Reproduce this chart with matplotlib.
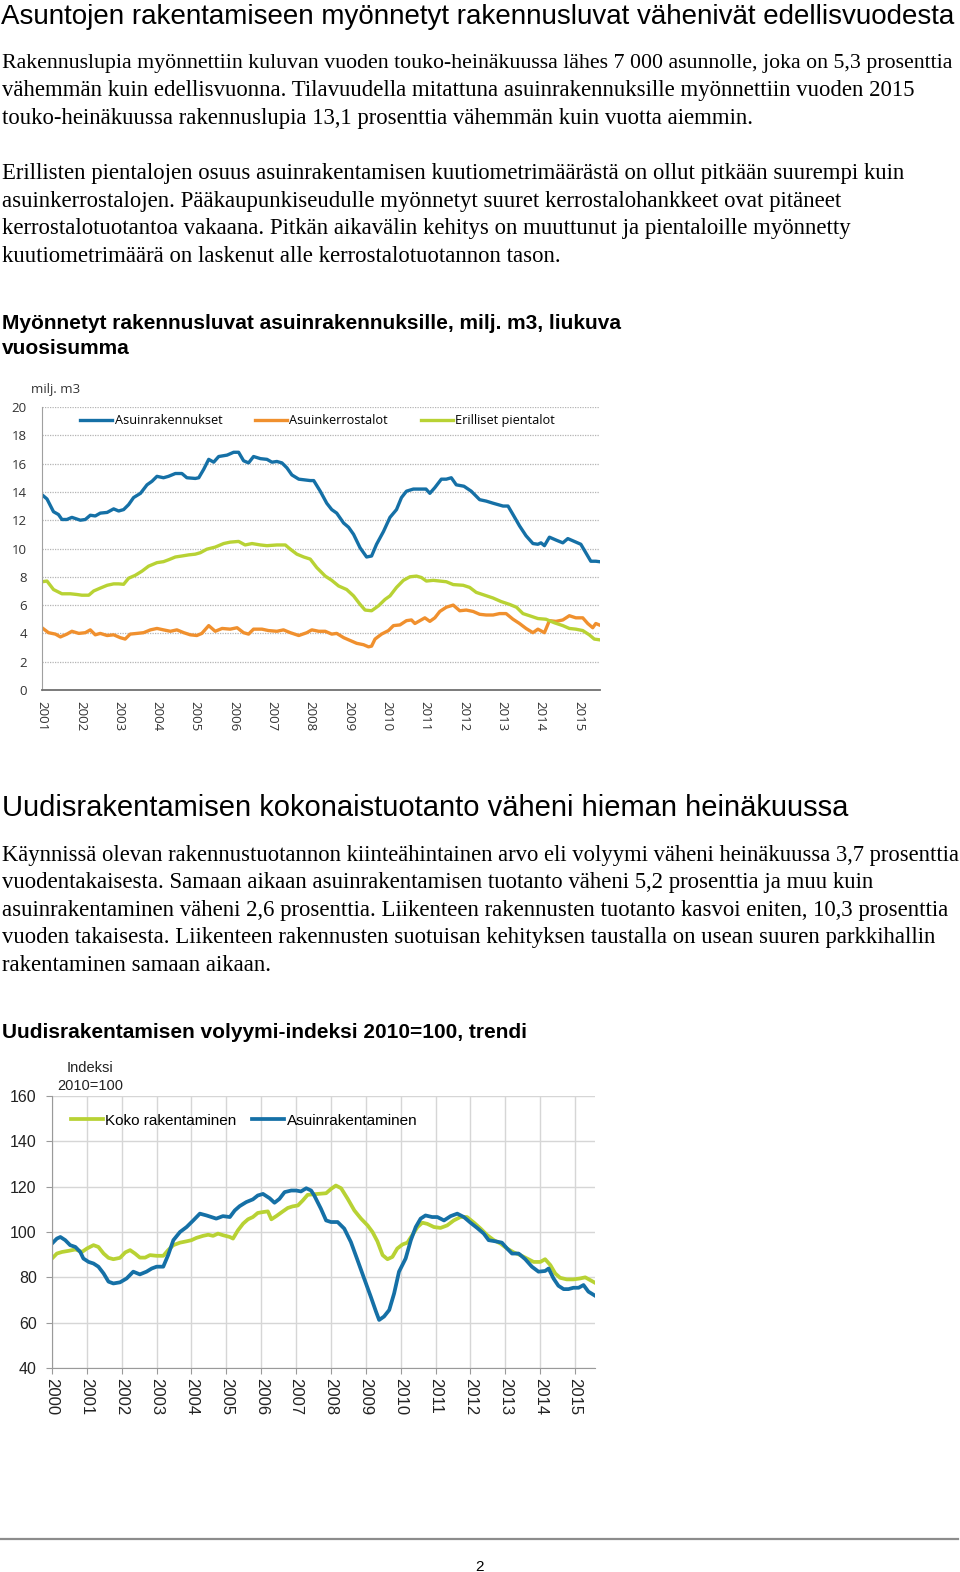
import numpy as np
import matplotlib
matplotlib.use("Agg")
import matplotlib.pyplot as plt

# --- chart 1: myönnetyt rakennusluvat, milj. m3 ---
asuin_x = [2001.00, 2001.13, 2001.30, 2001.43, 2001.52, 2001.65, 2001.78, 2002.00, 2002.13, 2002.26,
           2002.39, 2002.52, 2002.70, 2002.87, 2003.00, 2003.13, 2003.26, 2003.39, 2003.57, 2003.74,
           2003.87, 2004.00, 2004.17, 2004.30, 2004.48, 2004.65, 2004.78, 2005.00, 2005.09, 2005.22,
           2005.35, 2005.48, 2005.61, 2005.83, 2006.00, 2006.13, 2006.26, 2006.39, 2006.52, 2006.70,
           2006.87, 2007.00, 2007.13, 2007.26, 2007.39, 2007.52, 2007.70, 2008.00, 2008.09, 2008.26,
           2008.43, 2008.56, 2008.69, 2008.87, 2009.00, 2009.13, 2009.30, 2009.47, 2009.60, 2009.73,
           2009.91, 2010.08, 2010.25, 2010.38, 2010.51, 2010.69, 2010.86, 2011.02, 2011.12, 2011.25,
           2011.42, 2011.55, 2011.68, 2011.81, 2012.01, 2012.20, 2012.42, 2012.59, 2012.77, 2013.03,
           2013.16, 2013.29, 2013.46, 2013.63, 2013.81, 2013.94, 2014.02, 2014.11, 2014.24, 2014.41,
           2014.59, 2014.72, 2014.89, 2015.06, 2015.19, 2015.32, 2015.45, 2015.54]
asuin_y = [13.8, 13.5, 12.6, 12.4, 12.05, 12.05, 12.2, 12.0, 12.05, 12.35,
           12.3, 12.5, 12.55, 12.8, 12.65, 12.75, 13.1, 13.6, 13.9, 14.5,
           14.75, 15.1, 15.0, 15.1, 15.3, 15.3, 15.0, 14.95, 15.0, 15.6,
           16.3, 16.1, 16.5, 16.6, 16.8, 16.8, 16.2, 16.05, 16.5, 16.35,
           16.3, 16.1, 16.15, 16.05, 15.7, 15.2, 14.9, 14.8, 14.8, 14.05,
           13.2, 12.75, 12.5, 11.8, 11.5, 11.0, 10.05, 9.4, 9.47, 10.3,
           11.2, 12.2, 12.75, 13.6, 14.05, 14.2, 14.2, 14.2, 13.9, 14.3,
           14.9, 14.9, 15.0, 14.5, 14.4, 14.05, 13.45, 13.35, 13.2, 13.0,
           13.0, 12.4, 11.6, 10.9, 10.35, 10.3, 10.4, 10.2, 10.8, 10.6,
           10.4, 10.7, 10.5, 10.3, 9.7, 9.1, 9.1, 9.07]

kerros_x = [2001.00, 2001.17, 2001.35, 2001.48, 2001.65, 2001.78, 2001.96, 2002.13, 2002.26, 2002.39,
            2002.52, 2002.70, 2002.87, 2003.04, 2003.17, 2003.30, 2003.48, 2003.65, 2003.83, 2004.00,
            2004.17, 2004.35, 2004.52, 2004.70, 2004.87, 2005.04, 2005.17, 2005.35, 2005.52, 2005.70,
            2005.91, 2006.09, 2006.26, 2006.39, 2006.52, 2006.74, 2006.91, 2007.13, 2007.30, 2007.48,
            2007.70, 2007.91, 2008.04, 2008.22, 2008.39, 2008.56, 2008.69, 2008.87, 2009.04, 2009.21,
            2009.39, 2009.52, 2009.60, 2009.69, 2009.86, 2010.04, 2010.17, 2010.34, 2010.51, 2010.64,
            2010.73, 2010.86, 2010.99, 2011.12, 2011.25, 2011.38, 2011.55, 2011.73, 2011.90, 2012.07,
            2012.25, 2012.42, 2012.59, 2012.77, 2012.94, 2013.11, 2013.29, 2013.46, 2013.63, 2013.81,
            2013.94, 2014.11, 2014.24, 2014.41, 2014.59, 2014.76, 2014.93, 2015.11, 2015.24, 2015.37,
            2015.45, 2015.54]
kerros_y = [4.4, 4.05, 3.95, 3.75, 3.95, 4.15, 4.0, 4.05, 4.25, 3.9,
            4.0, 3.85, 3.9, 3.7, 3.6, 3.95, 4.0, 4.05, 4.25, 4.35,
            4.25, 4.15, 4.25, 4.05, 3.9, 3.85, 4.0, 4.55, 4.15, 4.35,
            4.3, 4.4, 4.05, 3.95, 4.3, 4.3, 4.2, 4.15, 4.25, 4.05,
            3.85, 4.05, 4.25, 4.15, 4.15, 3.95, 4.0, 3.7, 3.5, 3.3,
            3.2, 3.05, 3.1, 3.6, 3.95, 4.2, 4.55, 4.6, 4.9, 4.95,
            4.7, 4.9, 5.1, 4.85, 5.1, 5.55, 5.85, 6.0, 5.6, 5.65,
            5.55, 5.35, 5.3, 5.3, 5.4, 5.4, 5.0, 4.7, 4.35, 4.05,
            4.3, 4.05, 4.9, 4.85, 4.95, 5.25, 5.1, 5.1, 4.7, 4.4,
            4.7, 4.6]

pien_x = [2001.00, 2001.13, 2001.30, 2001.52, 2001.74, 2001.91, 2002.04, 2002.22, 2002.35, 2002.52,
          2002.70, 2002.87, 2003.00, 2003.13, 2003.26, 2003.43, 2003.61, 2003.78, 2004.00, 2004.17,
          2004.30, 2004.48, 2004.65, 2004.83, 2005.00, 2005.13, 2005.30, 2005.52, 2005.74, 2005.91,
          2006.13, 2006.30, 2006.48, 2006.70, 2006.87, 2007.13, 2007.35, 2007.48, 2007.65, 2007.83,
          2008.00, 2008.17, 2008.39, 2008.56, 2008.74, 2008.95, 2009.13, 2009.30, 2009.43, 2009.60,
          2009.78, 2009.95, 2010.08, 2010.25, 2010.43, 2010.60, 2010.77, 2010.90, 2011.03, 2011.21,
          2011.38, 2011.55, 2011.73, 2011.99, 2012.16, 2012.33, 2012.55, 2012.77, 2012.98, 2013.20,
          2013.38, 2013.55, 2013.72, 2013.94, 2014.15, 2014.37, 2014.59, 2014.76, 2014.93, 2015.11,
          2015.28, 2015.41, 2015.54]
pien_y = [7.65, 7.7, 7.1, 6.8, 6.8, 6.75, 6.7, 6.7, 7.0, 7.2,
          7.4, 7.5, 7.5, 7.47, 7.9, 8.1, 8.4, 8.75, 9.0, 9.07,
          9.2, 9.4, 9.47, 9.55, 9.6, 9.7, 9.95, 10.1, 10.35, 10.45,
          10.5, 10.25, 10.35, 10.25, 10.2, 10.25, 10.25, 9.95, 9.6, 9.4,
          9.25, 8.65, 8.05, 7.75, 7.35, 7.1, 6.65, 6.05, 5.65, 5.6,
          5.95, 6.4, 6.65, 7.25, 7.75, 8.0, 8.05, 7.95, 7.7, 7.75,
          7.7, 7.65, 7.45, 7.4, 7.25, 6.9, 6.7, 6.5, 6.25, 6.05,
          5.85, 5.4, 5.25, 5.05, 5.0, 4.75, 4.55, 4.35, 4.3, 4.2,
          3.9, 3.6, 3.55]

# --- chart 2: volyymi-indeksi 2010=100, trendi ---
koko_x = [2000.00, 2000.14, 2000.29, 2000.48, 2000.67, 2000.86, 2001.00, 2001.19, 2001.33, 2001.48,
          2001.62, 2001.76, 2001.95, 2002.10, 2002.24, 2002.38, 2002.52, 2002.67, 2002.81, 2003.00,
          2003.19, 2003.33, 2003.48, 2003.67, 2003.86, 2004.00, 2004.14, 2004.33, 2004.48, 2004.62,
          2004.76, 2004.90, 2005.10, 2005.19, 2005.33, 2005.48, 2005.62, 2005.76, 2005.90, 2006.05,
          2006.19, 2006.29, 2006.43, 2006.62, 2006.76, 2006.90, 2007.05, 2007.19, 2007.33, 2007.48,
          2007.62, 2007.86, 2008.00, 2008.14, 2008.29, 2008.48, 2008.67, 2008.86, 2009.05, 2009.19,
          2009.33, 2009.48, 2009.62, 2009.76, 2009.90, 2010.05, 2010.19, 2010.33, 2010.48, 2010.62,
          2010.76, 2010.95, 2011.14, 2011.33, 2011.52, 2011.71, 2011.90, 2012.10, 2012.29, 2012.48,
          2012.67, 2012.86, 2013.05, 2013.24, 2013.43, 2013.62, 2013.81, 2014.00, 2014.14, 2014.29,
          2014.43, 2014.57, 2014.76, 2014.95, 2015.14, 2015.29, 2015.43, 2015.57]
koko_y = [88.3, 90.5, 91.2, 91.7, 92.3, 91.2, 92.7, 94.2, 93.4, 90.5,
          88.6, 88.0, 88.6, 91.0, 92.0, 90.5, 88.7, 88.7, 89.8, 89.5,
          89.5, 92.0, 94.2, 95.3, 95.9, 96.4, 97.4, 98.3, 98.8, 98.3,
          99.3, 98.6, 97.8, 97.1, 100.7, 103.7, 105.6, 106.6, 108.4, 108.8,
          109.1, 105.6, 107.0, 109.1, 110.6, 111.3, 111.7, 113.9, 116.4, 116.6,
          116.8, 117.1, 119.0, 120.5, 119.3, 114.6, 109.5, 105.9, 102.9, 100.0,
          95.9, 89.8, 88.0, 89.0, 92.7, 94.5, 95.3, 98.6, 102.2, 104.1,
          103.6, 102.2, 101.8, 102.9, 105.1, 106.6, 106.6, 104.1, 101.5, 98.6,
          96.4, 94.9, 92.7, 91.0, 89.8, 88.3, 86.8, 86.8, 88.0, 85.4,
          81.7, 79.8, 79.1, 79.1, 79.5, 80.0, 78.8, 77.6]

asrak_x = [2000.00, 2000.14, 2000.24, 2000.38, 2000.52, 2000.67, 2000.81, 2000.90, 2001.05, 2001.19,
           2001.33, 2001.48, 2001.62, 2001.76, 2001.95, 2002.14, 2002.33, 2002.52, 2002.71, 2002.86,
           2003.00, 2003.19, 2003.33, 2003.48, 2003.67, 2003.86, 2004.05, 2004.24, 2004.43, 2004.57,
           2004.71, 2004.90, 2005.10, 2005.24, 2005.38, 2005.57, 2005.76, 2005.90, 2006.05, 2006.24,
           2006.38, 2006.52, 2006.67, 2006.86, 2007.00, 2007.14, 2007.29, 2007.43, 2007.52, 2007.71,
           2007.86, 2008.00, 2008.19, 2008.38, 2008.57, 2008.76, 2008.95, 2009.14, 2009.29, 2009.38,
           2009.52, 2009.67, 2009.81, 2009.95, 2010.14, 2010.29, 2010.43, 2010.57, 2010.71, 2010.90,
           2011.05, 2011.24, 2011.43, 2011.62, 2011.81, 2012.00, 2012.19, 2012.38, 2012.52, 2012.71,
           2012.90, 2013.05, 2013.19, 2013.38, 2013.57, 2013.76, 2013.95, 2014.14, 2014.24, 2014.38,
           2014.52, 2014.67, 2014.81, 2014.95, 2015.10, 2015.24, 2015.38, 2015.57]
asrak_y = [94.9, 97.1, 97.8, 96.4, 94.2, 93.4, 91.2, 88.3, 86.8, 86.1,
           84.7, 81.7, 78.1, 77.3, 77.8, 79.5, 82.5, 81.3, 82.5, 83.9,
           84.7, 84.7, 89.8, 96.4, 100.0, 102.2, 105.1, 108.1, 107.3, 106.6,
           105.9, 107.0, 106.6, 109.5, 111.4, 113.2, 114.4, 116.1, 116.8, 114.9,
           112.9, 114.6, 117.6, 118.3, 118.3, 117.9, 119.3, 118.3, 116.1, 110.3,
           105.1, 104.4, 104.4, 101.5, 95.6, 87.6, 79.5, 71.5, 64.9, 61.2,
           62.7, 65.6, 72.9, 82.5, 88.3, 96.4, 102.2, 105.9, 107.3, 106.6,
           106.6, 105.1, 107.0, 108.1, 106.6, 104.1, 101.8, 99.3, 96.4, 95.9,
           95.3, 92.7, 90.5, 90.5, 88.0, 84.7, 82.5, 82.8, 83.9, 79.5,
           76.3, 74.8, 74.8, 75.4, 75.4, 76.6, 73.7, 71.9]

years1 = list(range(2001, 2016))
years2 = list(range(2000, 2016))

title1 = "Asuntojen rakentamiseen myönnetyt rakennusluvat vähenivät edellisvuodesta"
para1 = ["Rakennuslupia myönnettiin kuluvan vuoden touko-heinäkuussa lähes 7 000 asunnolle, joka on 5,3 prosenttia",
         "vähemmän kuin edellisvuonna. Tilavuudella mitattuna asuinrakennuksille myönnettiin vuoden 2015",
         "touko-heinäkuussa rakennuslupia 13,1 prosenttia vähemmän kuin vuotta aiemmin."]
para2 = ["Erillisten pientalojen osuus asuinrakentamisen kuutiometrimäärästä on ollut pitkään suurempi kuin",
         "asuinkerrostalojen. Pääkaupunkiseudulle myönnetyt suuret kerrostalohankkeet ovat pitäneet",
         "kerrostalotuotantoa vakaana. Pitkän aikavälin kehitys on muuttunut ja pientaloille myönnetty",
         "kuutiometrimäärä on laskenut alle kerrostalotuotannon tason."]
chart1_title = ["Myönnetyt rakennusluvat asuinrakennuksille, milj. m3, liukuva", "vuosisumma"]
title2 = "Uudisrakentamisen kokonaistuotanto väheni hieman heinäkuussa"
para3 = ["Käynnissä olevan rakennustuotannon kiinteähintainen arvo eli volyymi väheni heinäkuussa 3,7 prosenttia",
         "vuodentakaisesta. Samaan aikaan asuinrakentamisen tuotanto väheni 5,2 prosenttia ja muu kuin",
         "asuinrakentaminen väheni 2,6 prosenttia. Liikenteen rakennusten tuotanto kasvoi eniten, 10,3 prosenttia",
         "vuoden takaisesta. Liikenteen rakennusten suotuisan kehityksen taustalla on usean suuren parkkihallin",
         "rakentaminen samaan aikaan."]
chart2_title = "Uudisrakentamisen volyymi-indeksi 2010=100, trendi"

BLUE = "#1570a6"
ORANGE = "#f0902e"
GREEN = "#b8d234"

W, H = 960, 1572
fig = plt.figure(figsize=(W / 100, H / 100), dpi=100)
renderer = fig.canvas.get_renderer()


def fx(x):
    return x / W


def fy(y):
    return 1 - y / H


def put(txt, x, y, size, family, weight="normal", maxw=955, **kw):
    # y is the visual middle of the line
    yy = y * H / 1568 + 3
    t = fig.text(fx(x), fy(yy), txt, fontsize=size, family=family, weight=weight,
                 va="center", ha=kw.pop("ha", "left"), **kw)
    w = t.get_window_extent(renderer).width
    if w > maxw:
        t.set_fontsize(size * maxw / w)
    return t


SERIF = "Liberation Serif"
SANS = "Liberation Sans"

put(title1, 1, 14, 21, SANS)
for i, s in enumerate(para1):
    put(s, 2, 60 + i * 27.7, 16.4, SERIF)
for i, s in enumerate(para2):
    put(s, 2, 170 + i * 27.7, 16.4, SERIF)
for i, s in enumerate(chart1_title):
    put(s, 2, 320 + i * 25, 15, SANS, weight="bold")
put(title2, 2, 803, 21, SANS)
for i, s in enumerate(para3):
    put(s, 2, 850 + i * 27.5, 16.4, SERIF)
put(chart2_title, 2, 1027, 15, SANS, weight="bold")

# ---------------- chart 1 ----------------
ax1 = fig.add_axes([fx(42), fy(690), fx(600) - fx(42), fy(407) - fy(690)])
ax1.plot(asuin_x, asuin_y, color=BLUE, lw=2.4, label="Asuinrakennukset")
ax1.plot(kerros_x, kerros_y, color=ORANGE, lw=2.4, label="Asuinkerrostalot")
ax1.plot(pien_x, pien_y, color=GREEN, lw=2.4, label="Erilliset pientalot")
ax1.set_xlim(2001, 2015.56)
ax1.set_ylim(0, 20)
ax1.set_yticks(range(0, 21, 2))
ax1.set_xticks(years1)
ax1.set_xticklabels([str(y) for y in years1], rotation=-90)
ax1.grid(axis="y", color="#b4b4b4", ls=(0, (1, 1)), lw=0.9)
ax1.set_axisbelow(True)
for s in ("top", "right"):
    ax1.spines[s].set_visible(False)
ax1.spines["left"].set_color("#a0a0a0")
ax1.spines["bottom"].set_color("#707070")
ax1.spines["bottom"].set_linewidth(1.3)
ax1.tick_params(length=0, labelsize=9.5, colors="#333333")
ax1.tick_params(axis="y", pad=11)
ax1.tick_params(axis="x", pad=8)
for lab in ax1.get_xticklabels() + ax1.get_yticklabels():
    lab.set_family("Open Sans")
ax1.legend(loc="upper left", bbox_to_anchor=(0.048, 1.015), ncol=3, frameon=False,
           prop={"family": "Open Sans", "size": 9.2}, handlelength=2.5, handletextpad=0.2,
           columnspacing=2.55)
put("milj. m3", 31, 386, 9.5, "Open Sans", color="#333333")

# ---------------- chart 2 ----------------
ax2 = fig.add_axes([fx(52), fy(1368), fx(595) - fx(52), fy(1096) - fy(1368)])
ax2.plot(koko_x, koko_y, color=GREEN, lw=2.7, label="Koko rakentaminen")
ax2.plot(asrak_x, asrak_y, color=BLUE, lw=2.7, label="Asuinrakentaminen")
ax2.set_xlim(2000, 2015.57)
ax2.set_ylim(40, 160)
ax2.set_yticks(range(40, 161, 20))
ax2.set_xticks(years2)
ax2.set_xticklabels([str(y) for y in years2], rotation=-90)
ax2.grid(color="#d6d6d6", lw=1.0)
ax2.set_axisbelow(True)
for s in ("top", "right"):
    ax2.spines[s].set_visible(False)
ax2.spines["left"].set_color("#9a9a9a")
ax2.spines["bottom"].set_color("#9a9a9a")
ax2.tick_params(length=4, color="#9a9a9a", labelsize=11.5, labelcolor="#222222")
ax2.tick_params(axis="y", pad=7)
ax2.tick_params(axis="x", pad=3, labelsize=12)
for lab in ax2.get_xticklabels() + ax2.get_yticklabels():
    lab.set_family(SANS)
ax2.legend(loc="upper left", bbox_to_anchor=(0.009, 0.985), ncol=2, frameon=False,
           prop={"family": SANS, "size": 11}, handlelength=2.1, handletextpad=0.18,
           columnspacing=1.0)
put("Indeksi", 90, 1062, 10.5, SANS, ha="center", color="#222222")
put("2010=100", 90, 1080, 10.5, SANS, ha="center", color="#222222")

# footer
fig.add_artist(plt.Line2D([fx(1), fx(958)], [fy(1539), fy(1539)], color="#8c8c8c", lw=1.6))
put("2", 479, 1560, 11, SANS, ha="center")

fig.savefig("out.png", dpi=100)
